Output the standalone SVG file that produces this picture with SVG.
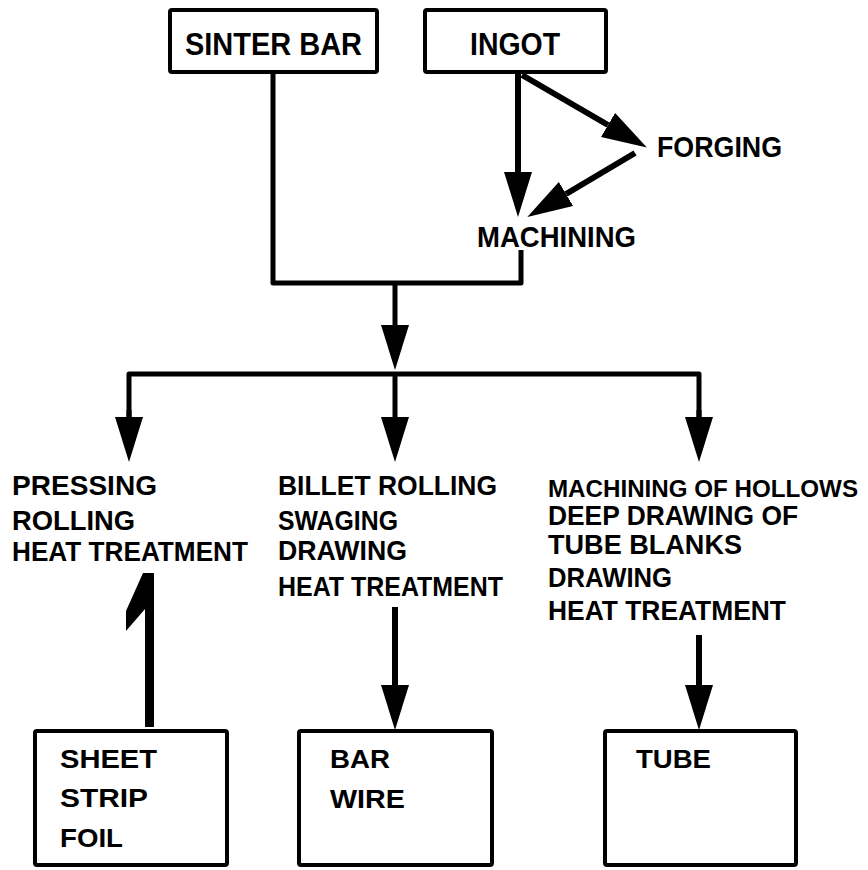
<svg xmlns="http://www.w3.org/2000/svg" width="868" height="870" viewBox="0 0 868 870">
<style>
  .box { fill: #fff; stroke: #000; stroke-width: 4; }
  .ln { fill: none; stroke: #000; stroke-width: 5; stroke-linejoin: round; }
  .ln6 { fill: none; stroke: #000; stroke-width: 6; }
  .arr { marker-end: url(#ah); }
  text { font-family: "Liberation Sans", Arial, sans-serif; font-weight: bold; fill: #000; }
  .t32 { font-size: 32px; }
  .t30 { font-size: 30px; }
  .t28 { font-size: 28px; }
  .t25 { font-size: 25px; }
  .t24 { font-size: 24.5px; }
</style>
<defs>
  <marker id="ah" markerUnits="userSpaceOnUse" viewBox="0 0 45 28" markerWidth="45" markerHeight="28" refX="0" refY="14" orient="auto">
    <path d="M0,0 L45,14 L0,28 Z" fill="#000"/>
  </marker>
</defs>
<rect width="868" height="870" fill="#fff"/>

<g id="connectors">
  <path class="ln" d="M273,73 V283 H521 V250"/>
  <path class="ln arr" d="M395,283 V325"/>
  <path class="ln" d="M129,417 V374 H699 V417"/>
  <path class="ln arr" d="M129,410 V417"/>
  <path class="ln arr" d="M395,374 V417"/>
  <path class="ln arr" d="M699,410 V417"/>
  <path class="ln6 arr" d="M518,73 V172"/>
  <path class="ln6 arr" d="M522,75 L608,125"/>
  <path class="ln6 arr" d="M635,153 L566,194"/>
  <path class="ln6 arr" d="M395,607 V685"/>
  <path class="ln6 arr" d="M699,635 V685"/>
  <polygon points="143,573 154,573 154,727 145,727 145,609 126,631 126,611" fill="#000"/>
</g>

<g id="sinter-bar">
  <rect class="box" x="170" y="10" width="207" height="62" rx="2"/>
  <text class="t32" x="185" y="55" textLength="177" lengthAdjust="spacingAndGlyphs">SINTER BAR</text>
</g>
<g id="ingot">
  <rect class="box" x="425" y="10" width="181" height="62" rx="2"/>
  <text class="t32" x="470" y="55" textLength="90" lengthAdjust="spacingAndGlyphs">INGOT</text>
</g>
<g id="forging">
  <text class="t30" x="657" y="157" textLength="125" lengthAdjust="spacingAndGlyphs">FORGING</text>
</g>
<g id="machining">
  <text class="t30" x="477" y="247" textLength="159" lengthAdjust="spacingAndGlyphs">MACHINING</text>
</g>

<g id="process-sheet">
  <text class="t28" x="12" y="495" textLength="145" lengthAdjust="spacingAndGlyphs">PRESSING</text>
  <text class="t28" x="12" y="530" textLength="123" lengthAdjust="spacingAndGlyphs">ROLLING</text>
  <text class="t28" x="12" y="561" textLength="236" lengthAdjust="spacingAndGlyphs">HEAT TREATMENT</text>
</g>
<g id="process-bar">
  <text class="t28" x="278" y="495" textLength="219" lengthAdjust="spacingAndGlyphs">BILLET ROLLING</text>
  <text class="t28" x="278" y="530" textLength="120" lengthAdjust="spacingAndGlyphs">SWAGING</text>
  <text class="t28" x="278" y="560" textLength="129" lengthAdjust="spacingAndGlyphs">DRAWING</text>
  <text class="t28" x="278" y="596" textLength="225" lengthAdjust="spacingAndGlyphs">HEAT TREATMENT</text>
</g>
<g id="process-tube">
  <text class="t24" x="548" y="497" textLength="310" lengthAdjust="spacingAndGlyphs">MACHINING OF HOLLOWS</text>
  <text class="t28" x="548" y="525" textLength="250" lengthAdjust="spacingAndGlyphs">DEEP DRAWING OF</text>
  <text class="t28" x="548" y="554" textLength="194" lengthAdjust="spacingAndGlyphs">TUBE  BLANKS</text>
  <text class="t28" x="548" y="587" textLength="124" lengthAdjust="spacingAndGlyphs">DRAWING</text>
  <text class="t28" x="548" y="620" textLength="238" lengthAdjust="spacingAndGlyphs">HEAT TREATMENT</text>
</g>

<g id="sheet-box">
  <rect class="box" x="35" y="731" width="192" height="134" rx="2"/>
  <text class="t25" x="60" y="768" textLength="97" lengthAdjust="spacingAndGlyphs">SHEET</text>
  <text class="t25" x="60" y="807" textLength="88" lengthAdjust="spacingAndGlyphs">STRIP</text>
  <text class="t25" x="60" y="847" textLength="63" lengthAdjust="spacingAndGlyphs">FOIL</text>
</g>
<g id="bar-box">
  <rect class="box" x="299" y="731" width="193" height="134" rx="2"/>
  <text class="t25" x="330" y="768" textLength="60" lengthAdjust="spacingAndGlyphs">BAR</text>
  <text class="t25" x="330" y="808" textLength="75" lengthAdjust="spacingAndGlyphs">WIRE</text>
</g>
<g id="tube-box">
  <rect class="box" x="605" y="731" width="191" height="134" rx="2"/>
  <text class="t25" x="636" y="768" textLength="75" lengthAdjust="spacingAndGlyphs">TUBE</text>
</g>
</svg>
